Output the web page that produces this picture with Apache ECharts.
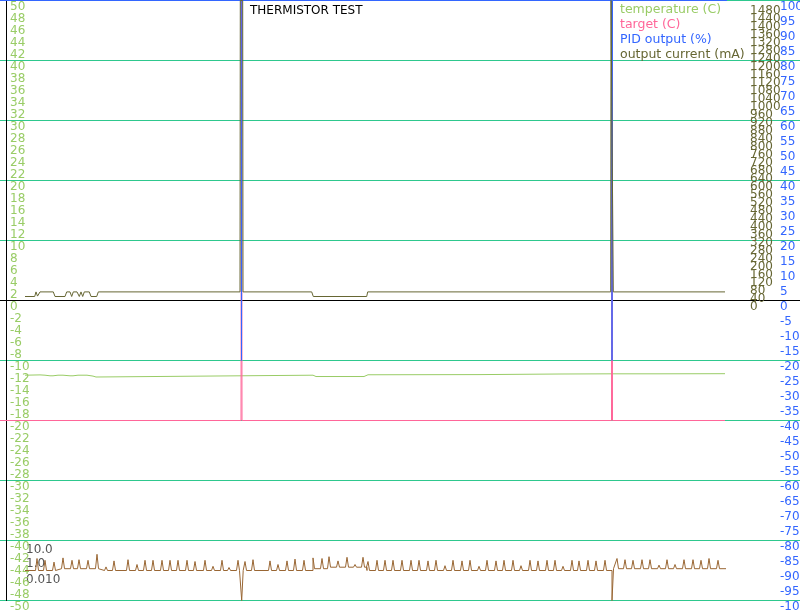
<!DOCTYPE html>
<html>
<head>
<meta charset="utf-8">
<script src="https://cdn.jsdelivr.net/npm/echarts@6/dist/echarts.min.js"></script>
<style>
html,body{margin:0;padding:0;background:#fff}
#main{width:800px;height:611px}
</style>
</head>
<body>
<div id="main"></div>
<script>
// 图例名称和颜色
var seriesNames = ['temperature (C)', 'target (C)', 'PID output (%)', 'output current (mA)'];
var seriesColors = ['#99cc66', '#ff6699', '#3366ff', '#666633'];

// 温度曲线 [sample, C]
var temperature = [[25,-12.45],[40,-12.4],[45,-12.45],[50,-12.55],[53,-12.55],[58,-12.45],[63,-12.45],[70,-12.55],[73,-12.55],
  [78,-12.45],[87,-12.45],[93,-12.6],[96,-12.75],[98,-12.45],[313,-12.45],[316,-12.67],[364,-12.67],[366,-12.8],[368,-12.38],
  [480,-12.35],[520,-12.3],[560,-12.25],[612,-12.22],[660,-12.22],[725,-12.2]];

// 目标温度, 两次尖峰
var target = [[0,-20],[241,-20],[241.5,50],[242,-20],[611.5,-20],[612,50],[612.5,-20],[725,-20]];

// PID输出 %
var pidOutput = [[0,100],[241,100],[241.5,-20],[242,100],[611.5,100],[612,-20],[612.5,100],[727,100]];

// 输出电流 mA, 尖峰顶到头了
var current = [[25,20],[34.7,20],[36,43],[37.5,22],[40,43],[53.3,43],[55,20],[65,20],[66.7,43],[70,43],[71.7,20],[73.3,43],
  [77,43],[79.3,20],[81,43],[82.7,20],[84.3,43],[89.3,43],[91,20],[96.7,20],[98.3,43],[240,43],[240.3,1500],[242.7,1500],[243,43],
  [311.7,43],[313.3,20],[366.7,20],[367.7,43],[610.7,43],[611,1500],[613,1500],[613.3,43],[725,43]];

// 下面那条棕色的线: 基线分段 + 尖峰
var errBase = [[25,-45.0],[57,-44.7],[100,-45.0],[313,-44.7],[330,-44.45],[367,-45.0],[612,-44.7],[726,-44.8]];
var errPeaks = [[37,-43.0],[45,-43.3],[54,-43.6],[63,-42.9],[72,-43.3],[79,-43.2],[88,-43.3],[97,-42.3],[106,-44.4],[114,-43.4],
  [128,-43.2],[137,-44.0],[145,-43.3],[153,-43.3],[162,-43.3],[170,-43.3],[178,-43.3],[187,-43.3],[195,-43.5],[205,-43.3],[213,-44.3],
  [222,-43.3],[229,-44.5],[238,-43.3],[241.7,-50],[245,-43.5],[253,-43.2],[270,-43.4],[278,-44.0],[287,-43.4],[295,-43.1],[304,-43.3],
  [313,-42.9],[322,-43.0],[329,-42.7],[338,-43.4],[347,-42.8],[355,-44.0],[363,-42.8],[368,-43.5],[377,-43.3],[385,-43.3],[393,-43.3],
  [402,-43.3],[411,-43.3],[419,-43.3],[428,-43.4],[436,-43.3],[445,-44.2],[453,-43.3],[462,-43.4],[470,-43.3],[479,-44.3],[487,-43.3],
  [496,-43.4],[504,-43.3],[513,-43.3],[521,-44.2],[530,-43.3],[538,-43.4],[547,-43.3],[555,-43.3],[563,-44.3],[572,-43.3],[579,-43.4],
  [588,-43.3],[596,-43.4],[605,-43.3],[612,-50],[617,-43.0],[625,-43.2],[633,-43.3],[642,-43.2],[650,-43.2],[659,-44.1],[667,-43.2],
  [675,-44.0],[684,-43.2],[693,-43.2],[701,-43.3],[709,-43.0],[718,-43.3]];
var errLabels = ['10.0', '1.0', '0.010'];

// 找某个位置的基线值
function baseAt(x){
	var v = errBase[0][1];
	for (var i = 0; i < errBase.length; i++) {
		if (errBase[i][0] <= x) v = errBase[i][1];
	}
	return v;
}

// 把基线和尖峰拼成一条线
function buildErr(){
	var pts = [];
	var i, j = 0;
	for (i = 0; i < errBase.length; i++) {
		while (j < errPeaks.length && errPeaks[j][0] < errBase[i][0]) {
			var p = errPeaks[j];
			pts.push([p[0] - 1.5, baseAt(p[0] - 1.5)]);
			pts.push(p);
			pts.push([p[0] + 1.5, baseAt(p[0] + 1.5)]);
			j++;
		}
		if (i > 0) pts.push([errBase[i][0], errBase[i - 1][1]]);
		pts.push(errBase[i]);
	}
	return pts;
}

var gridColor = '#2ec88e';
var font = 'DejaVu Sans';

// 横向网格线颜色, 0 那条是黑的
var splitColors = [];
for (var k = -50; k <= 50; k += 10) splitColors.push(k === 0 ? '#000000' : gridColor);

var myChart = echarts.init(document.getElementById('main'));

var option = {
	animation: false,
	textStyle: { fontFamily: font },
	title: {
		text: 'THERMISTOR TEST',
		left: 245, top: 0,
		textStyle: { fontSize: 12, fontWeight: 'normal', color: '#000', fontFamily: font }
	},
	legend: {
		orient: 'vertical',
		left: 615, top: 3, padding: 0,
		icon: 'none',
		itemWidth: 0, itemHeight: 13, itemGap: 2,
		selectedMode: false,
		textStyle: { fontSize: 12.5, fontFamily: font },
		data: seriesNames.map(function (n, i) {
			return { name: n, textStyle: { color: seriesColors[i] } };
		})
	},
	grid: [
		{ left: 0, right: 0, top: 0.5, bottom: 10.5, containLabel: false, outerBoundsMode: 'none' },
		// 电流轴只占上半部分, 多留一格(-40)让0和40都能显示
		{ left: 0, right: 0, top: 0.5, height: 308, containLabel: false, outerBoundsMode: 'none' }
	],
	xAxis: [
		{ type: 'value', gridIndex: 0, min: 0, max: 800, show: false },
		{ type: 'value', gridIndex: 1, min: 0, max: 800, show: false }
	],
	yAxis: [
		{
			type: 'value', gridIndex: 0, min: -50, max: 50, interval: 2,
			position: 'left', offset: -6,
			axisLine: { show: true, onZero: false, lineStyle: { color: '#000', width: 1 } },
			axisTick: { show: false },
			axisLabel: { inside: true, margin: 4, color: '#99cc66', fontSize: 12, verticalAlign: 'top', align: 'left', fontFamily: font },
			splitLine: { show: false }
		},
		{
			type: 'value', gridIndex: 0, min: -50, max: 50, interval: 10,
			axisLine: { show: false }, axisTick: { show: false }, axisLabel: { show: false },
			splitLine: { show: true, lineStyle: { color: splitColors, width: 1 } }
		},
		{
			type: 'value', gridIndex: 0, min: -100, max: 100, interval: 5,
			position: 'right', offset: -20,
			axisLine: { show: false }, axisTick: { show: false },
			axisLabel: { margin: 0, color: '#3366ff', fontSize: 12, verticalAlign: 'top', align: 'left', fontFamily: font },
			splitLine: { show: false }
		},
		{
			type: 'value', gridIndex: 1, min: -40, max: 1500, interval: 40,
			position: 'right', offset: -50,
			axisLine: { show: false }, axisTick: { show: false },
			axisLabel: {
				margin: 0, color: '#666633', fontSize: 12, verticalAlign: 'top', align: 'left',
				showMinLabel: false, showMaxLabel: false, fontFamily: font,
				formatter: function (v) { return String(v); }
			},
			splitLine: { show: false }
		}
	],
	graphic: errLabels.map(function (s, i) {
		return {
			type: 'text', left: 26, top: [544, 558, 574][i],
			style: { text: s, fill: '#555555', font: '12px "DejaVu Sans"' }
		};
	}),
	series: [
		{ name: seriesNames[0], type: 'line', xAxisIndex: 0, yAxisIndex: 0, data: temperature, showSymbol: false, clip: false,
			itemStyle: { color: seriesColors[0] }, lineStyle: { color: seriesColors[0], width: 1 } },
		{ name: seriesNames[1], type: 'line', xAxisIndex: 0, yAxisIndex: 0, data: target, showSymbol: false, clip: false,
			itemStyle: { color: seriesColors[1] }, lineStyle: { color: seriesColors[1], width: 1 } },
		{ name: seriesNames[2], type: 'line', xAxisIndex: 0, yAxisIndex: 2, data: pidOutput, showSymbol: false, clip: false,
			itemStyle: { color: seriesColors[2] }, lineStyle: { color: seriesColors[2], width: 1 } },
		{ name: seriesNames[3], type: 'line', xAxisIndex: 1, yAxisIndex: 3, data: current, showSymbol: false, clip: false,
			itemStyle: { color: seriesColors[3] }, lineStyle: { color: seriesColors[3], width: 1 } },
		{ name: 'error', type: 'line', xAxisIndex: 0, yAxisIndex: 0, data: buildErr(), showSymbol: false, clip: false,
			itemStyle: { color: '#996633' }, lineStyle: { color: '#996633', width: 1 } }
	]
};

myChart.setOption(option);
</script>
</body>
</html>
